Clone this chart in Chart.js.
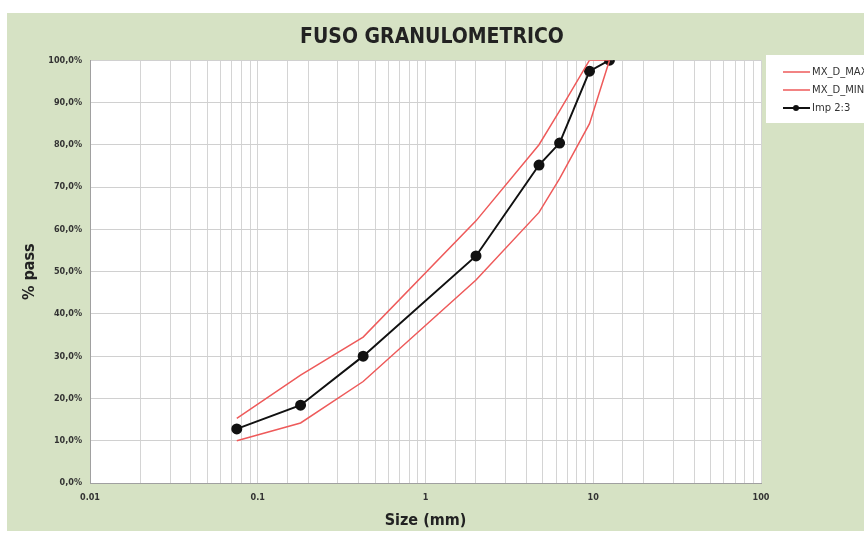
<!DOCTYPE html>
<html>
<head>
<meta charset="utf-8">
<script src="https://cdn.jsdelivr.net/npm/chart.js@4"></script>
<style>
  html, body { margin: 0; padding: 0; background: #fff; }
  #wrap { width: 864px; height: 534px; }
</style>
</head>
<body>
<div id="wrap"><canvas id="fuso" width="864" height="534"></canvas></div>
<script>
// sieve sizes (mm) and % passing
const sizes = [0.075, 0.18, 0.425, 2, 4.75, 6.3, 9.5, 12.5];
const maxPass = [15.3, 25.5, 34.5, 62, 80, 88, 100, 100];
const minPass = [10, 14.2, 24, 48, 64, 72, 85, 100];
const impPass = [12.8, 18.4, 30, 53.7, 75.2, 80.4, 97.4, 100];
const seriesLabels = ["MX_D_MAX", "MX_D_MIN", "Imp 2:3"];
const xTickLabels = ["0.01", "0.1", "1", "10", "100"];

const toPoints = (vals) => sizes.map((s, i) => ({ x: s, y: vals[i] }));

const bgPlugin = {
  id: "bg",
  afterLayout(chart) {
    // centre the title on the whole canvas, not just the plot column
    const t = chart.titleBlock;
    if (t) { t.left = 0; t.right = 864; t.width = 864; }
  },
  beforeDraw(chart) {
    const { ctx, chartArea } = chart;
    ctx.save();
    ctx.fillStyle = "#ffffff";
    ctx.fillRect(0, 0, 864, 534);
    ctx.fillStyle = "#d6e2c4";
    ctx.fillRect(7, 13, 857, 518);
    ctx.fillStyle = "#ffffff";
    ctx.fillRect(chartArea.left, chartArea.top, chartArea.width, chartArea.height);
    ctx.restore();
  },
  afterDatasetsDraw(chart) {
    // legend box on the right, clipped by the canvas edge like the original
    const { ctx } = chart;
    ctx.save();
    ctx.fillStyle = "#ffffff";
    ctx.fillRect(766, 55, 98, 68);
    ctx.font = "10px 'DejaVu Sans', sans-serif";
    ctx.textBaseline = "middle";
    const rows = [72, 90, 108];
    chart.data.datasets.forEach((ds, i) => {
      const y = rows[i];
      ctx.strokeStyle = ds.borderColor;
      ctx.lineWidth = ds.borderWidth;
      ctx.beginPath();
      ctx.moveTo(783, y);
      ctx.lineTo(810, y);
      ctx.stroke();
      if (ds.pointRadius > 0) {
        ctx.fillStyle = ds.pointBackgroundColor;
        ctx.beginPath();
        ctx.arc(796, y, 3, 0, Math.PI * 2);
        ctx.fill();
      }
      ctx.fillStyle = "#333";
      ctx.fillText(ds.label, 812, y);
    });
    ctx.restore();
  }
};

new Chart(document.getElementById("fuso"), {
  type: "line",
  data: {
    datasets: [
      {
        label: seriesLabels[0],
        data: toPoints(maxPass),
        borderColor: "#ee5a5a",
        borderWidth: 1.5,
        pointRadius: 0,
        tension: 0
      },
      {
        label: seriesLabels[1],
        data: toPoints(minPass),
        borderColor: "#ee5a5a",
        borderWidth: 1.5,
        pointRadius: 0,
        tension: 0
      },
      {
        label: seriesLabels[2],
        data: toPoints(impPass),
        borderColor: "#111111",
        backgroundColor: "#111111",
        pointBackgroundColor: "#111111",
        pointBorderColor: "#111111",
        borderWidth: 2,
        pointRadius: 4.5,
        tension: 0
      }
    ]
  },
  options: {
    responsive: false,
    animation: false,
    layout: { padding: { left: 0, right: 103, top: 0, bottom: 0 } },
    plugins: {
      legend: { display: false },
      tooltip: { enabled: false },
      title: {
        display: true,
        text: "FUSO GRANULOMETRICO",
        color: "#222",
        font: { family: "'DejaVu Sans Condensed', 'DejaVu Sans', sans-serif", size: 21, weight: "bold" },
        padding: { top: 25, bottom: 10 }
      }
    },
    scales: {
      x: {
        type: "logarithmic",
        min: 0.01,
        max: 100,
        afterFit: (s) => { s.height = 51; },
        border: { color: "#a0a0a0" },
        grid: { color: "#d4d4d4", drawTicks: false },
        ticks: {
          autoSkip: false,
          maxRotation: 0,
          padding: 9,
          color: "#333",
          font: { family: "'DejaVu Sans Condensed', 'DejaVu Sans', sans-serif", size: 9, weight: "bold" },
          callback: (v) => {
            const e = Math.log10(v);
            if (Math.abs(e - Math.round(e)) > 1e-9) return "";
            return xTickLabels[Math.round(e) + 2];
          }
        },
        title: {
          display: true,
          text: "Size (mm)",
          color: "#222",
          font: { family: "'DejaVu Sans Condensed', 'DejaVu Sans', sans-serif", size: 16, weight: "bold" },
          padding: { top: 0, bottom: 4 }
        }
      },
      y: {
        min: 0,
        max: 100,
        afterFit: (s) => { s.width = 90; },
        border: { color: "#a0a0a0" },
        grid: { color: "#d0d0d0", drawTicks: false },
        ticks: {
          stepSize: 10,
          padding: 8,
          color: "#333",
          font: { family: "'DejaVu Sans Condensed', 'DejaVu Sans', sans-serif", size: 9, weight: "bold" },
          callback: (v) => v.toFixed(1).replace(".", ",") + "%"
        },
        title: {
          display: true,
          text: "% pass",
          color: "#222",
          font: { family: "'DejaVu Sans Condensed', 'DejaVu Sans', sans-serif", size: 16, weight: "bold" },
          padding: { top: 20, bottom: 0 }
        }
      }
    }
  },
  plugins: [bgPlugin]
});
</script>
</body>
</html>
